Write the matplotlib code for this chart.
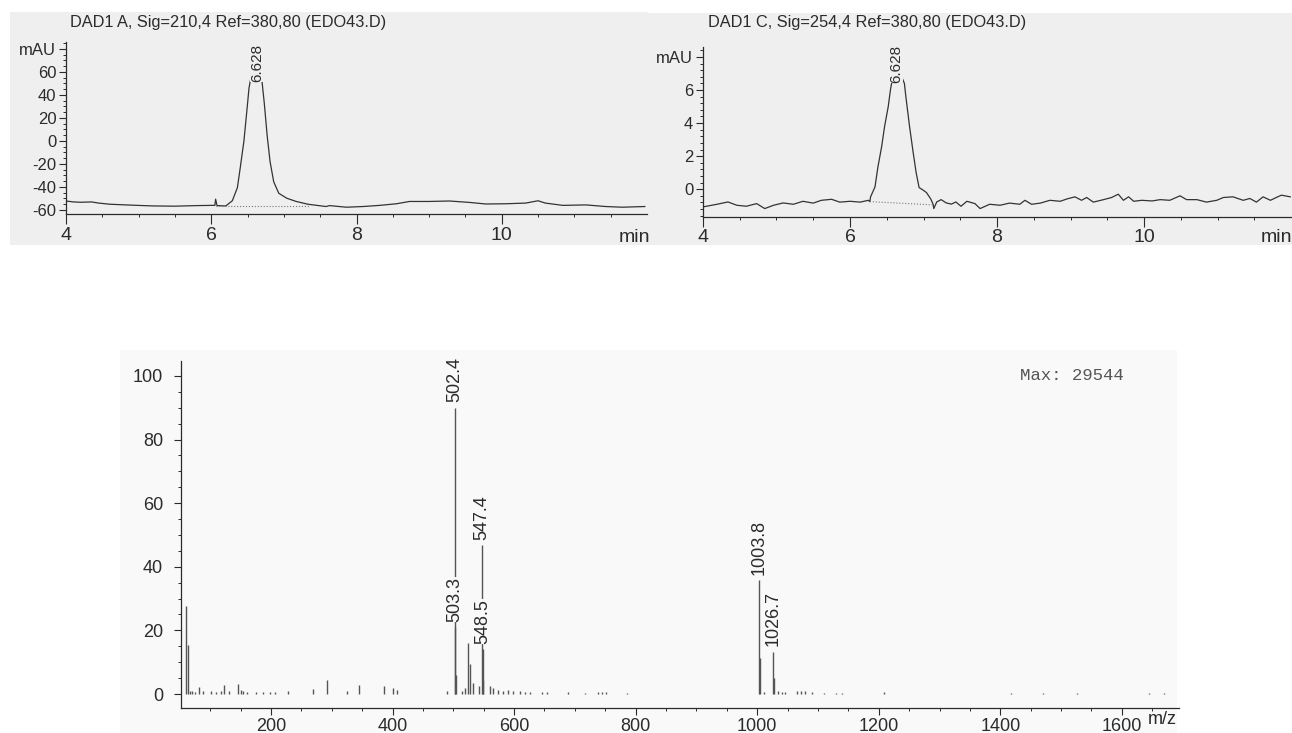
import numpy as np
import matplotlib.pyplot as plt
from matplotlib.patches import Rectangle

plt.rcParams['font.family'] = ['Liberation Sans', 'DejaVu Sans']

### ----- Daten ----- ###
# DAD1 A, Sig=210,4 (Zeit in min, Signal in mAU)
chromA_t = [4.00, 4.10, 4.20, 4.35, 4.45, 4.60, 4.90, 5.20, 5.50, 5.80, 6.00, 6.05, 6.06, 6.08,
            6.20, 6.29, 6.36, 6.40, 6.45, 6.49, 6.52, 6.54, 6.628, 6.70, 6.73, 6.77, 6.81, 6.86,
            6.93, 7.04, 7.17, 7.33, 7.58, 7.63, 7.86, 8.09, 8.32, 8.55, 8.73, 9.00, 9.28, 9.55,
            9.78, 10.06, 10.33, 10.50, 10.60, 10.84, 11.16, 11.43, 11.66, 11.97]
chromA_v = [-52.2, -53.0, -53.3, -53.0, -54.0, -55.0, -55.8, -56.5, -56.7, -56.2, -56.0, -56.0,
            -50.6, -56.2, -56.5, -52.0, -40.6, -23.0, 0.0, 26.0, 46.0, 53.0, 68.0, 51.0, 33.0,
            4.6, -18.0, -35.5, -45.5, -49.8, -52.6, -55.0, -57.0, -56.2, -57.6, -57.0, -56.0,
            -54.6, -52.6, -52.6, -52.2, -53.4, -54.8, -54.6, -54.0, -52.0, -54.0, -56.0, -55.6,
            -57.0, -57.6, -57.0]
baseA_t = [6.06, 7.35]
baseA_v = [-56.8, -56.8]

# DAD1 C, Sig=254,4
chromC_t = [4.00, 4.19, 4.34, 4.46, 4.59, 4.73, 4.84, 4.96, 5.09, 5.23, 5.36, 5.50, 5.61, 5.75,
            5.86, 6.00, 6.14, 6.25, 6.27, 6.28, 6.34, 6.38, 6.43, 6.47, 6.52, 6.55, 6.57, 6.628,
            6.74, 6.76, 6.81, 6.86, 6.90, 6.94, 6.99, 7.04, 7.10, 7.13, 7.14, 7.18, 7.24, 7.31,
            7.38, 7.44, 7.51, 7.59, 7.70, 7.77, 7.90, 8.04, 8.17, 8.31, 8.38, 8.47, 8.59, 8.72,
            8.86, 8.95, 9.06, 9.15, 9.22, 9.31, 9.45, 9.56, 9.65, 9.72, 9.79, 9.86, 9.97, 10.11,
            10.22, 10.35, 10.49, 10.58, 10.72, 10.85, 10.99, 11.08, 11.21, 11.35, 11.44, 11.53,
            11.62, 11.72, 11.80, 11.87, 11.99]
chromC_v = [-1.07, -0.91, -0.77, -0.97, -1.03, -0.87, -1.17, -0.97, -0.83, -0.91, -0.73, -0.84,
            -0.67, -0.61, -0.78, -0.73, -0.78, -0.67, -0.75, -0.46, 0.14, 1.35, 2.56, 3.78, 4.99,
            6.0, 6.5, 7.6, 6.4, 5.6, 3.8, 2.2, 1.0, 0.1, -0.04, -0.2, -0.6, -0.9, -1.17, -0.77,
            -0.63, -0.83, -0.9, -0.77, -1.03, -0.73, -0.87, -1.17, -0.91, -0.97, -0.84, -0.91,
            -0.67, -0.91, -0.84, -0.67, -0.73, -0.59, -0.46, -0.67, -0.50, -0.78, -0.63, -0.50,
            -0.30, -0.67, -0.46, -0.73, -0.67, -0.71, -0.63, -0.67, -0.40, -0.63, -0.63, -0.78,
            -0.67, -0.50, -0.46, -0.67, -0.56, -0.78, -0.46, -0.67, -0.50, -0.36, -0.46]
baseC_t = [6.27, 7.14]
baseC_v = [-0.75, -0.95]

peak_rt = 6.628
peak_rt_label = '6.628'

# Massenspektrum (m/z, relative Intensität)
ms_mz = [60, 63, 66, 70, 75, 82, 88, 101, 110, 118, 123, 131, 146, 150, 154, 160, 176, 187, 198,
         207, 228, 269, 293, 325, 345, 386, 401, 407, 489, 502.4, 503.3, 504.3, 514, 519.6, 525,
         527, 533, 541.5, 547.4, 548.5, 549.5, 561, 566, 574, 582, 590, 599, 610, 618, 627, 646,
         654, 688, 716, 738, 744, 752, 785, 1003.8, 1004.8, 1012, 1026.7, 1027.7, 1035, 1040,
         1045, 1065, 1072, 1078, 1090, 1110, 1130, 1140, 1208, 1417, 1470, 1527, 1645, 1670]
ms_int = [27.7, 15.5, 1.0, 0.8, 0.6, 2.3, 0.8, 1.0, 0.6, 0.8, 2.7, 1.0, 3.2, 1.2, 0.9, 0.5, 0.6,
          0.6, 0.6, 0.5, 1.0, 1.5, 4.5, 1.0, 2.7, 2.4, 1.8, 1.2, 0.8, 90.0, 21.0, 6.0, 1.0, 2.0,
          16.0, 9.5, 3.5, 2.5, 46.8, 14.0, 4.5, 2.5, 1.8, 1.2, 1.0, 1.2, 0.8, 0.8, 0.5, 0.5, 0.5,
          0.5, 0.5, 0.4, 0.7, 0.7, 0.6, 0.4, 35.8, 11.3, 0.5, 13.3, 5.0, 1.0, 0.5, 0.5, 0.8, 0.8,
          1.0, 0.7, 0.3, 0.3, 0.3, 0.5, 0.4, 0.4, 0.4, 0.4, 0.4]
label_mz = [502.4, 503.3, 547.4, 548.5, 1003.8, 1026.7]
max_text = 'Max: 29544'

### ----- Figur ----- ###
W, H = 1292, 733
fig = plt.figure(figsize=(W/100, H/100), dpi=100)
fig.patch.set_facecolor('white')

paper_top = '#efefef'
paper_bot = '#f9f9f9'
ink = '#2b2b2b'

# gescannte Hintergründe (hinter den Achsen)
fig.patches.append(Rectangle((10/W, 1-245/H), 638/W, 233/H, transform=fig.transFigure,
                             facecolor=paper_top, edgecolor='none', zorder=-5))
fig.patches.append(Rectangle((647/W, 1-245/H), 645/W, 232/H, transform=fig.transFigure,
                             facecolor=paper_top, edgecolor='none', zorder=-5))
fig.patches.append(Rectangle((120/W, 0), 1057/W, 383/H, transform=fig.transFigure,
                             facecolor=paper_bot, edgecolor='none', zorder=-5))


def px_axes(x0, x1, y0, y1):
    # Achsen in Pixelkoordinaten (y von oben)
    return fig.add_axes([x0/W, 1-y1/H, (x1-x0)/W, (y1-y0)/H])


def style(ax, fs_x, fs_y):
    ax.set_facecolor('none')
    for s in ['top', 'right']:
        ax.spines[s].set_visible(False)
    for s in ['left', 'bottom']:
        ax.spines[s].set_color(ink)
        ax.spines[s].set_linewidth(0.9)
    ax.tick_params(which='major', direction='out', length=5, width=0.8, colors=ink, pad=2)
    ax.tick_params(which='minor', direction='out', length=2.5, width=0.7, colors=ink)
    ax.tick_params(axis='x', labelsize=fs_x)
    ax.tick_params(axis='y', labelsize=fs_y)


# --- Chromatogramm A --- #
axA = px_axes(66, 647, 42, 214)
style(axA, 14, 12)
axA.plot(chromA_t, chromA_v, color='#333333', lw=0.9)
axA.plot(baseA_t, baseA_v, color='#777777', lw=0.8, ls=':')
axA.set_xlim(4, 12)
axA.set_ylim(-63.5, 86)
axA.set_xticks([4, 6, 8, 10])
axA.set_xticks(np.arange(4, 12, 0.5), minor=True)
axA.tick_params(axis='x', which='major', length=7)
axA.set_yticks([-60, -40, -20, 0, 20, 40, 60, 80])
axA.set_yticklabels(['-60', '-40', '-20', '0', '20', '40', '60', 'mAU'])
axA.set_yticks(np.arange(-60, 86, 5), minor=True)
axA.text(peak_rt, 68, peak_rt_label, rotation=90, ha='center', va='center', fontsize=11,
         color=ink, bbox=dict(facecolor=paper_top, edgecolor='none', pad=0))
fig.text(70/W, 1-23/H, 'DAD1 A, Sig=210,4 Ref=380,80 (EDO43.D)', fontsize=11.8, color=ink,
         va='center', ha='left')
fig.text(650/W, 1-237/H, 'min', fontsize=14, color=ink, va='center', ha='right')

# --- Chromatogramm C --- #
axC = px_axes(703, 1291, 47, 217)
style(axC, 14, 12)
axC.plot(chromC_t, chromC_v, color='#333333', lw=0.9)
axC.plot(baseC_t, baseC_v, color='#777777', lw=0.8, ls=':')
axC.set_xlim(4, 12)
axC.set_ylim(-1.68, 8.6)
axC.set_xticks([4, 6, 8, 10])
axC.set_xticks(np.arange(4, 12, 0.5), minor=True)
axC.tick_params(axis='x', which='major', length=7)
axC.set_yticks([0, 2, 4, 6, 8])
axC.set_yticklabels(['0', '2', '4', '6', 'mAU'])
axC.set_yticks(np.arange(-1.6, 8.6, 0.4), minor=True)
axC.text(peak_rt, 7.6, peak_rt_label, rotation=90, ha='center', va='center', fontsize=11,
         color=ink, bbox=dict(facecolor=paper_top, edgecolor='none', pad=0))
fig.text(708/W, 1-23/H, 'DAD1 C, Sig=254,4 Ref=380,80 (EDO43.D)', fontsize=11.8, color=ink,
         va='center', ha='left')
fig.text(1292/W, 1-237/H, 'min', fontsize=14, color=ink, va='center', ha='right')

# --- Massenspektrum --- #
axM = px_axes(181, 1179, 361, 708)
style(axM, 13, 13)
axM.vlines(ms_mz, 0, ms_int, color='#555555', lw=1.0)
axM.set_xlim(52, 1694)
axM.set_ylim(-4.4, 104.7)
axM.set_xticks(np.arange(200, 1601, 200))
axM.set_xticks(np.arange(100, 1694, 50), minor=True)
axM.set_yticks(np.arange(0, 101, 20))
axM.set_yticks(np.arange(0, 104, 5), minor=True)
axM.tick_params(axis='y', which='major', pad=8)
for mz in label_mz:
    inten = ms_int[ms_mz.index(mz)]
    axM.annotate('{:.1f}'.format(mz), (mz, inten), xytext=(0, 4), textcoords='offset points',
                 rotation=90, ha='center', va='bottom', fontsize=13, color=ink,
                 bbox=dict(facecolor=paper_bot, edgecolor='none', pad=0))
fig.text(1020/W, 1-375/H, max_text, family=['Liberation Mono', 'DejaVu Sans Mono'],
         fontsize=12.5, color='#555555', va='center', ha='left')
fig.text(1177/W, 1-720/H, 'm/z', fontsize=13, color=ink, va='center', ha='right')

fig.savefig('out.png', dpi=100)
